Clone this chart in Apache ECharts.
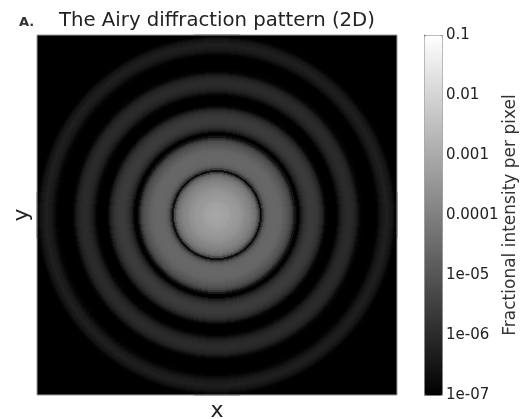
<!DOCTYPE html>
<html>
<head>
<meta charset="utf-8">
<title>The Airy diffraction pattern (2D)</title>
<script src="https://cdn.jsdelivr.net/npm/echarts@6/dist/echarts.min.js"></script>
<style>
  html, body { margin: 0; padding: 0; background: #fff; }
  #chart { width: 521px; height: 419px; }
</style>
</head>
<body>
<div id="chart"></div>
<script>
// Radial intensity profile of the pattern (fractional intensity per pixel),
// one value every two pixels of radius, measured outward from the centre.
const radialProfile = [
  7.6e-4, 7.6e-4, 7.6e-4, 7.2e-4, 6.8e-4, 6.5e-4, 6.1e-4, 5.5e-4, 4.9e-4, 4.4e-4,
  4.0e-4, 3.4e-4, 3.0e-4, 2.6e-4, 2.2e-4, 1.9e-4, 1.5e-4, 1.2e-4, 9.2e-5, 6.0e-5,
  3.0e-5, 5.8e-6, 1.7e-7, 2.6e-6, 1.2e-5, 1.9e-5, 2.4e-5, 2.8e-5, 3.0e-5, 3.0e-5,
  3.0e-5, 2.8e-5, 2.5e-5, 2.1e-5, 1.7e-5, 1.3e-5, 9.0e-6, 5.2e-6, 2.0e-6, 3.0e-7,
  1.0e-7, 1.2e-7, 3.9e-7, 8.7e-7, 1.5e-6, 2.1e-6, 2.6e-6, 2.9e-6, 2.9e-6, 2.7e-6,
  2.3e-6, 1.8e-6, 1.1e-6, 5.7e-7, 2.3e-7, 1.2e-7, 1.0e-7, 1.0e-7, 1.0e-7, 1.0e-7,
  1.3e-7, 2.7e-7, 5.1e-7, 7.8e-7, 9.7e-7, 1.1e-6, 1.1e-6, 1.1e-6, 9.7e-7, 7.4e-7,
  4.6e-7, 2.3e-7, 1.3e-7, 1.0e-7, 1.0e-7, 1.0e-7, 1.0e-7, 1.0e-7, 1.0e-7, 1.0e-7,
  1.3e-7, 2.3e-7, 3.5e-7, 4.6e-7, 5.4e-7, 5.7e-7, 5.4e-7, 4.3e-7, 3.0e-7, 1.7e-7,
  1.2e-7, 1.0e-7, 1.0e-7
];

// Image size in pixels (per side) and pixels of radius per profile sample.
const imageSize = 360;
const profileStep = 2;

// Colour-bar tick labels, from the lowest decade (1e-7) to the highest (0.1).
const colorbarTicks = ['1e-07', '1e-06', '1e-05', '0.0001', '0.001', '0.01', '0.1'];
const colorbarMinExp = -7;
const colorbarMaxExp = -1;

// Pixel indices used as category axes.
const pixelIndex = Array.from({ length: imageSize }, (_, i) => i);

// Build the heatmap cells: each pixel takes the profile value at its radius.
// Pixels at the 1e-7 floor are left to the black plot background.
const centre = (imageSize - 1) / 2;
const cells = [];
for (let ix = 0; ix < imageSize; ix++) {
  for (let iy = 0; iy < imageSize; iy++) {
    const k = Math.round(Math.hypot(ix - centre, iy - centre) / profileStep);
    if (k < radialProfile.length && radialProfile[k] > 1e-7) {
      cells.push([ix, iy, Math.log10(radialProfile[k])]);
    }
  }
}

const FONT = 'DejaVu Sans';
const chart = echarts.init(document.getElementById('chart'), null, { renderer: 'canvas' });

const hiddenAxis = (gridIndex) => ({ gridIndex, type: 'value', min: 0, max: 1, show: false });

chart.setOption({
  animation: false,
  backgroundColor: '#ffffff',
  textStyle: { fontFamily: FONT },
  title: [
    {
      text: 'A.',
      left: 14, top: 11,
      textStyle: { fontFamily: FONT, fontSize: 13, fontWeight: 'bold', color: '#333' }
    },
    {
      text: 'The Airy diffraction pattern (2D)',
      left: 54, top: 6,
      textStyle: { fontFamily: FONT, fontSize: 19.7, fontWeight: 'normal', color: '#222' }
    }
  ],
  grid: [
    // image area
    {
      left: 37, top: 35, width: 360, height: 360,
      outerBoundsMode: 'none',
      show: true, backgroundColor: '#000000', borderWidth: 0
    },
    // colour-bar axis
    {
      left: 424, top: 35, width: 18, height: 360,
      outerBoundsMode: 'none',
      show: false
    },
    // frame drawn over the image
    {
      left: 37, top: 35, width: 360, height: 360,
      outerBoundsMode: 'none', z: 10,
      show: true, backgroundColor: 'transparent',
      borderColor: '#9a9a9a', borderWidth: 1
    }
  ],
  xAxis: [
    {
      gridIndex: 0, type: 'category', data: pixelIndex,
      axisLine: { show: false }, axisTick: { show: false }, axisLabel: { show: false },
      splitLine: { show: false },
      name: 'x', nameLocation: 'middle', nameGap: 5,
      nameTextStyle: { fontFamily: FONT, fontSize: 22, color: '#222' }
    },
    hiddenAxis(1),
    hiddenAxis(2)
  ],
  yAxis: [
    {
      gridIndex: 0, type: 'category', data: pixelIndex,
      axisLine: { show: false }, axisTick: { show: false }, axisLabel: { show: false },
      splitLine: { show: false },
      name: 'y', nameLocation: 'middle', nameGap: 4, nameRotate: 90,
      nameTextStyle: { fontFamily: FONT, fontSize: 22, color: '#222' }
    },
    {
      gridIndex: 1, type: 'value', position: 'right',
      min: colorbarMinExp, max: colorbarMaxExp, interval: 1,
      axisLine: { show: true, lineStyle: { color: '#999' } },
      axisTick: { show: true, length: 4, lineStyle: { color: '#555' } },
      splitLine: { show: false },
      axisLabel: {
        margin: 4, fontFamily: FONT, fontSize: 15, color: '#222',
        formatter: v => colorbarTicks[Math.round(v) - colorbarMinExp]
      },
      name: 'Fractional intensity per pixel', nameLocation: 'middle',
      nameGap: 60, nameRotate: 90,
      nameTextStyle: { fontFamily: FONT, fontSize: 17, color: '#333' }
    },
    hiddenAxis(2)
  ],
  visualMap: {
    type: 'continuous',
    seriesIndex: 0,
    dimension: 2,
    min: colorbarMinExp,
    max: colorbarMaxExp,
    orient: 'vertical',
    left: 424, top: 35,
    itemWidth: 18, itemHeight: 360,
    padding: 0,
    calculable: false,
    hoverLink: false,
    borderColor: '#999', borderWidth: 1,
    inRange: { color: ['#000000', '#ffffff'] }
  },
  series: [
    {
      type: 'heatmap',
      xAxisIndex: 0, yAxisIndex: 0,
      data: cells,
      progressive: 0,
      emphasis: { disabled: true },
      silent: true
    }
  ]
});
</script>
</body>
</html>
